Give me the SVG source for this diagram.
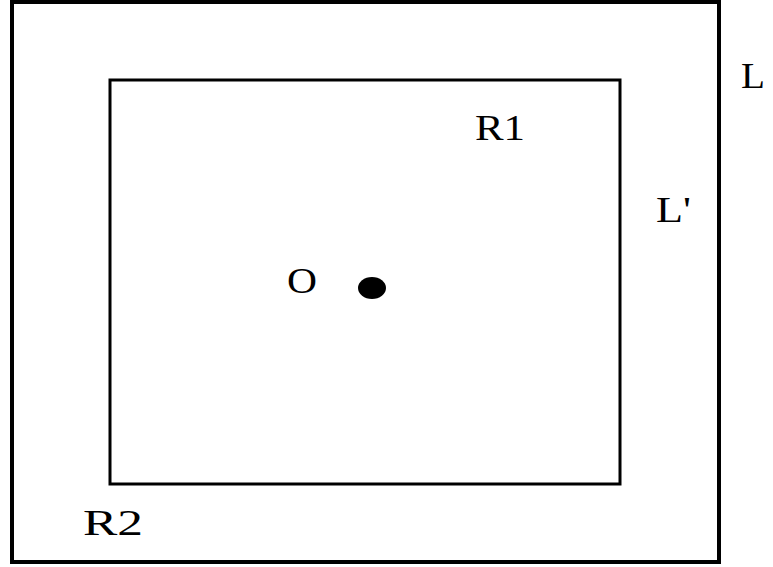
<svg xmlns="http://www.w3.org/2000/svg" width="773" height="567" viewBox="0 0 773 567">
<style>
.r{fill:none;stroke:#000}
</style>
<rect width="773" height="567" fill="#fff"/>
<g font-family="Liberation Serif, DejaVu Serif, serif" font-size="36" fill="#000">
<g id="L"><rect class="r" x="12" y="2" width="707" height="560" stroke-width="4"/><text x="741" y="88" textLength="24" lengthAdjust="spacingAndGlyphs">L</text></g>
<g id="Lp"><rect class="r" x="110" y="80" width="510" height="404" stroke-width="3"/><text x="656" y="222" textLength="35" lengthAdjust="spacingAndGlyphs">L'</text></g>
<g id="R1"><text x="475" y="140" textLength="50" lengthAdjust="spacingAndGlyphs">R1</text></g>
<g id="R2"><text x="83" y="535" textLength="60" lengthAdjust="spacingAndGlyphs">R2</text></g>
<g id="O"><text x="287" y="293" textLength="30" lengthAdjust="spacingAndGlyphs">O</text><ellipse cx="372" cy="288" rx="14" ry="11" fill="#000"/></g>
</g>
<g id="connectors"></g>
</svg>
